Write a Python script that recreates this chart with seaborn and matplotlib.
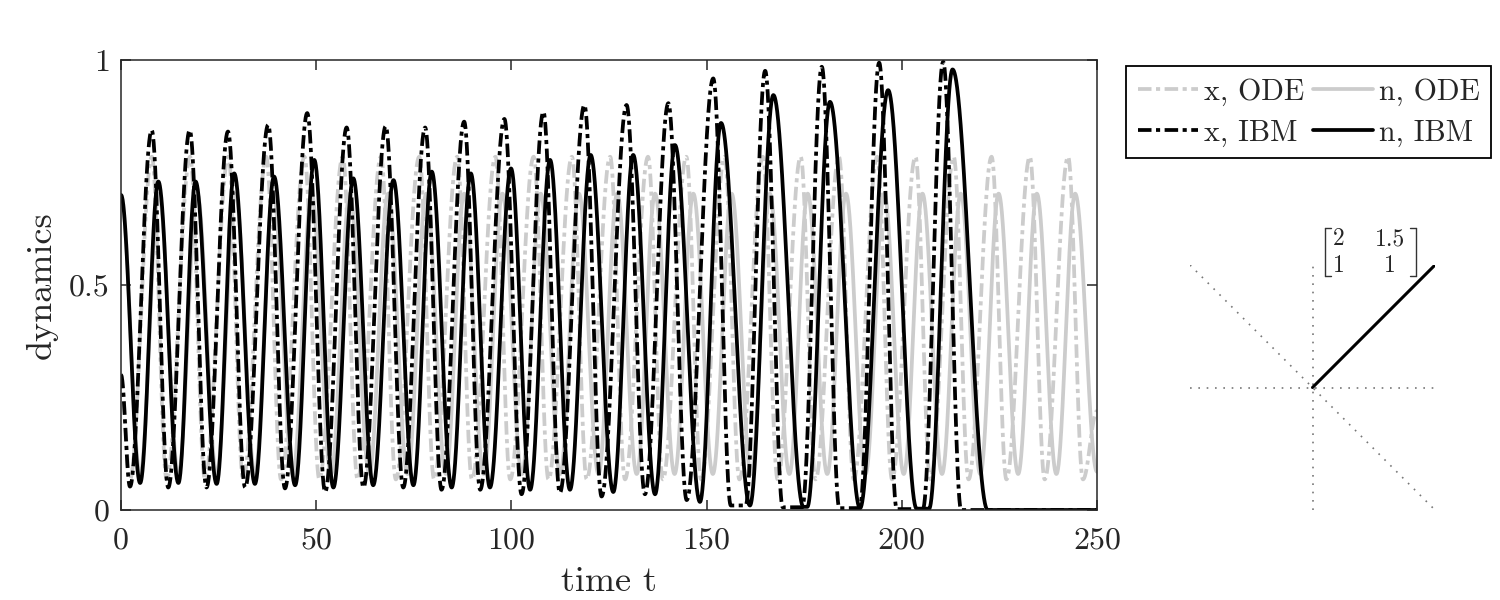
import numpy as np
import pandas as pd
import matplotlib
matplotlib.use('Agg')
import matplotlib.pyplot as plt
import seaborn as sns
from matplotlib.lines import Line2D

# ---- values ----
# IBM, x (dash-dot black): start value, peaks and troughs
x_ibm_start = 0.30
x_ibm_peak_t = [7.86, 17.6, 27.4, 37.7, 47.7, 57.8, 67.8, 77.9, 87.9, 98.2, 108.2, 118.7,
                129.5, 140.2, 151.7, 165.0, 179.5, 194.2, 210.6]
x_ibm_peak_v = [0.844, 0.844, 0.841, 0.856, 0.882, 0.850, 0.853, 0.850, 0.863, 0.869, 0.885, 0.900,
                0.900, 0.904, 0.959, 0.976, 0.985, 0.994, 0.996]
x_ibm_low_t = [2.3, 12.1, 21.9, 31.8, 42.0, 52.3, 62.1, 72.3, 82.1, 92.0, 102.6, 112.4, 123.1,
               134.2, 144.9, 156.2, 160.0, 169.5, 174.5, 184.0, 189.2, 198.7, 205.4, 215.2]
x_ibm_low_v = [0.052, 0.05, 0.05, 0.05, 0.048, 0.04, 0.05, 0.05, 0.045, 0.045, 0.035, 0.038, 0.03,
               0.035, 0.022, 0.01, 0.01, 0.006, 0.006, 0.004, 0.004, 0.002, 0.002, 0.0]
x_ibm_end = 0.0

# IBM, n (solid black)
n_ibm_start = 0.70
n_ibm_peak_t = [9.56, 19.1, 29.0, 39.2, 49.5, 59.5, 69.8, 79.6, 89.6, 99.9, 109.9, 120.3,
                131.2, 141.9, 153.7, 167.1, 181.6, 196.5, 213.0]
n_ibm_peak_v = [0.730, 0.730, 0.748, 0.741, 0.778, 0.737, 0.733, 0.752, 0.748, 0.759, 0.778, 0.789,
                0.789, 0.811, 0.860, 0.922, 0.907, 0.933, 0.979]
n_ibm_low_t = [4.9, 14.7, 24.5, 34.3, 44.6, 54.4, 64.6, 74.9, 84.7, 94.5, 104.8, 115.0, 126.1,
               136.8, 148.3, 161.1, 174.8, 175.8, 189.3, 203.8, 207.0, 222.0]
n_ibm_low_v = [0.06, 0.06, 0.058, 0.058, 0.055, 0.05, 0.055, 0.055, 0.05, 0.05, 0.045, 0.045, 0.04,
               0.035, 0.018, 0.01, 0.007, 0.007, 0.004, 0.003, 0.003, 0.0]
n_ibm_end = 0.0

# ODE, x (dash-dot grey)
x_ode_start = 0.30
x_ode_peak_t = [7.9, 17.7, 27.5, 37.2, 47.0, 56.8, 66.6, 76.4, 86.1, 95.9, 105.7, 115.5, 125.3,
                135.0, 144.8, 154.6, 164.4, 174.1, 183.9, 193.7, 203.5, 213.3, 223.0, 232.8, 242.6]
x_ode_peak_v = [0.785] * 25
x_ode_low_t = [2.3, 11.7, 21.5, 31.3, 41.0, 50.8, 60.6, 70.4, 80.2, 89.9, 99.7, 109.5, 119.3,
               129.1, 138.8, 148.6, 158.4, 168.2, 177.9, 187.7, 197.5, 207.3, 217.1, 226.8, 236.6, 246.4]
x_ode_low_v = [0.068] * 26
x_ode_end = 0.22

# ODE, n (solid grey)
n_ode_start = 0.70
n_ode_peak_t = [9.7, 19.5, 29.3, 39.0, 48.8, 58.6, 68.4, 78.2, 87.9, 97.7, 107.5, 117.3, 127.1,
                136.8, 146.6, 156.4, 166.2, 175.9, 185.7, 195.5, 205.3, 215.1, 224.8, 234.6, 244.4]
n_ode_peak_v = [0.703] * 25
n_ode_low_t = [4.9, 14.7, 24.5, 34.3, 44.0, 53.8, 63.6, 73.4, 83.2, 92.9, 102.7, 112.5, 122.3,
               132.1, 141.8, 151.6, 161.4, 171.2, 180.9, 190.7, 200.5, 210.3, 220.1, 229.8, 239.6]
n_ode_low_v = [0.08] * 25
n_ode_end = 0.085

t_end = 250
x_ticks = [0, 50, 100, 150, 200, 250]
y_ticks = [0, 0.5, 1]
y_ticklabels = ['0', '0.5', '1']
matrix_entries = [['2', '1.5'], ['1', '1']]


def build_curve(t, start, peak_t, peak_v, low_t, low_v, end):
    # smooth (half-cosine) path through the read extrema
    kt = np.concatenate([[0.0], peak_t, low_t, [t_end]])
    kv = np.concatenate([[start], peak_v, low_v, [end]])
    order = np.argsort(kt)
    kt, kv = kt[order], kv[order]
    i = np.clip(np.searchsorted(kt, t, side='right') - 1, 0, len(kt) - 2)
    s = (t - kt[i]) / (kt[i + 1] - kt[i])
    ease = (1 - np.cos(np.pi * s)) / 2
    return kv[i] + (kv[i + 1] - kv[i]) * ease


t = np.linspace(0, t_end, 6001)
df = pd.DataFrame({
    't': t,
    'x_ode': build_curve(t, x_ode_start, x_ode_peak_t, x_ode_peak_v, x_ode_low_t, x_ode_low_v, x_ode_end),
    'n_ode': build_curve(t, n_ode_start, n_ode_peak_t, n_ode_peak_v, n_ode_low_t, n_ode_low_v, n_ode_end),
    'x_ibm': build_curve(t, x_ibm_start, x_ibm_peak_t, x_ibm_peak_v, x_ibm_low_t, x_ibm_low_v, x_ibm_end),
    'n_ibm': build_curve(t, n_ibm_start, n_ibm_peak_t, n_ibm_peak_v, n_ibm_low_t, n_ibm_low_v, n_ibm_end),
})

sns.set_style('ticks')
plt.rcParams.update({
    'font.family': 'serif',
    'font.serif': ['cmr10', 'DejaVu Serif'],
    'mathtext.fontset': 'cm',
    'axes.formatter.use_mathtext': True,
    'axes.edgecolor': '#262626',
    'axes.linewidth': 1.1,
    'xtick.color': '#262626',
    'ytick.color': '#262626',
    'text.color': '#262626',
})

grey = '#cccccc'
dashdot = (0, (3.6, 1.2, 1.1, 1.2))
lw = 2.7

fig = plt.figure(figsize=(15, 6), dpi=100)
ax = fig.add_axes([121 / 1500, 90 / 600, 976 / 1500, 450 / 600])

sns.lineplot(data=df, x='t', y='x_ode', ax=ax, color=grey, lw=lw, linestyle=dashdot,
             estimator=None, label='x, ODE')
sns.lineplot(data=df, x='t', y='n_ode', ax=ax, color=grey, lw=lw, linestyle='-',
             estimator=None, label='n, ODE')
sns.lineplot(data=df, x='t', y='x_ibm', ax=ax, color='black', lw=lw, linestyle=dashdot,
             estimator=None, label='x, IBM')
sns.lineplot(data=df, x='t', y='n_ibm', ax=ax, color='black', lw=lw, linestyle='-',
             estimator=None, label='n, IBM')

ax.set_xlim(0, t_end)
ax.set_ylim(0, 1)
ax.set_xticks(x_ticks)
ax.set_xticklabels([str(v) for v in x_ticks])
ax.set_yticks(y_ticks)
ax.set_yticklabels(y_ticklabels)
ax.tick_params(direction='in', length=7, width=1.1, top=True, right=True, labelsize=23)
ax.tick_params(axis='x', pad=12)
ax.tick_params(axis='y', pad=8)
ax.set_xlabel('time t', fontsize=26, labelpad=9)
ax.set_ylabel('dynamics', fontsize=26, labelpad=8)

handles, labels = ax.get_legend_handles_labels()
ax.get_legend().remove()
order = [0, 2, 1, 3]
leg = fig.legend([handles[i] for i in order], [labels[i] for i in order], ncol=2,
                 loc='upper left', bbox_to_anchor=(1126 / 1500, 1 - 66 / 600), fontsize=21.5,
                 frameon=True, fancybox=False, edgecolor='black', framealpha=1,
                 handlelength=2.0, handletextpad=0.2, columnspacing=0.3, labelspacing=0.45,
                 borderpad=0.4, borderaxespad=0)
leg.get_frame().set_linewidth(1.3)

# small direction inset
ins = fig.add_axes([1190 / 1500, 90 / 600, 245 / 1500, 245 / 600])
dot = (0, (1, 4))
ins.plot([-1, 1], [0, 0], color='#777777', lw=1.2, linestyle=dot)
ins.plot([0, 0], [-1, 1], color='#777777', lw=1.2, linestyle=dot)
ins.plot([-1, 1], [1, -1], color='#777777', lw=1.2, linestyle=dot)
ins.plot([0, 1], [0, 1], color='black', lw=2.2)
ins.set_xlim(-1, 1)
ins.set_ylim(-1, 1)
ins.axis('off')


def px(x, y):
    return x / 1500, 1 - y / 600


for r, row in enumerate(matrix_entries):
    for c, entry in enumerate(row):
        xx = [1339, 1390][c]
        yy = [239, 266][r]
        fig.text(*px(xx, yy), entry, fontsize=17, ha='center', va='center')

for xb, tip in [(1325, 1331), (1416, 1410)]:
    fig.add_artist(Line2D([px(xb, 0)[0]] * 2, [px(0, 228)[1], px(0, 276)[1]], color='#333333', lw=1))
    fig.add_artist(Line2D([px(xb, 0)[0], px(tip, 0)[0]], [px(0, 228)[1]] * 2, color='#333333', lw=1))
    fig.add_artist(Line2D([px(xb, 0)[0], px(tip, 0)[0]], [px(0, 276)[1]] * 2, color='#333333', lw=1))

fig.savefig('out.png', dpi=100)
